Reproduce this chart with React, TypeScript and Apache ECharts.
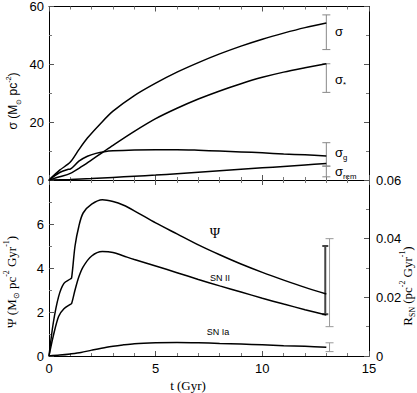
import React, { useEffect, useRef } from "react";
import * as echarts from "echarts";

// ---- Top panel: surface densities (M_sun pc^-2) ----
const tSigma = [0, 0.5, 1.0, 1.4, 1.8, 2.4, 3, 4, 5, 6, 7, 8, 9, 10, 11, 12, 13];
const sigmaTotal = [0, 3.4, 6.2, 10.5, 14.5, 19.4, 23.8, 29.2, 33.5, 37.3, 40.6, 43.6, 46.3, 48.7, 50.8, 52.7, 54.3];

const tStar = [0, 0.5, 1.0, 1.5, 2, 2.5, 3, 4, 5, 6, 7, 8, 9, 10, 11, 12, 13];
const sigmaStar = [0, 1.1, 2.3, 4.5, 7.0, 9.5, 12.0, 16.8, 21.2, 24.8, 28, 30.8, 33.3, 35.5, 37.3, 38.8, 40.2];

const tGas = [0, 0.5, 0.9, 1.0, 1.1, 1.4, 1.8, 2.2, 2.6, 3, 4, 5, 6, 7, 8, 9, 10, 11, 12, 13];
const sigmaGas = [0, 2.6, 3.7, 3.8, 4.3, 6.5, 8.2, 9.2, 9.8, 10.1, 10.4, 10.5, 10.5, 10.3, 10.0, 9.7, 9.4, 9.0, 8.7, 8.3];

const tRem = [0, 1, 2, 3, 4, 5, 6, 7, 8, 9, 10, 11, 12, 13];
const sigmaRem = [0, 0.2, 0.5, 0.9, 1.3, 1.7, 2.2, 2.7, 3.2, 3.7, 4.2, 4.7, 5.2, 5.7];

// observed ranges at t = 13 Gyr: [t, low, high]
const sigmaObs = [
  [13, 45.1, 57.1],
  [13, 30.3, 40.2],
  [13, 4.8, 12.9],
  [13, 1.1, 4.8],
];

// ---- Bottom panel ----
const tPsi = [0, 0.2, 0.45, 0.7, 1.0, 1.06, 1.22, 1.4, 1.6, 2.0, 2.5, 3, 3.5, 4, 5, 6, 7, 8, 9, 10, 11, 12, 13];
const psi = [0, 1.5, 2.7, 3.3, 3.5, 3.55, 5.0, 5.9, 6.5, 6.9, 7.1, 7.02, 6.85, 6.6, 6.05, 5.55, 5.05, 4.6, 4.18, 3.8, 3.45, 3.12, 2.82];

// SN rates (pc^-2 Gyr^-1), right axis
const tSN2 = [0, 0.2, 0.45, 0.7, 1.0, 1.06, 1.22, 1.4, 1.6, 2.0, 2.5, 3, 3.5, 4, 5, 6, 7, 8, 9, 10, 11, 12, 13];
const snII = [0, 0.0068, 0.0135, 0.0161, 0.0176, 0.0179, 0.0225, 0.027, 0.0304, 0.0341, 0.0356, 0.0353, 0.0341, 0.0329, 0.0307, 0.0284, 0.0261, 0.0239, 0.0218, 0.0197, 0.0177, 0.0158, 0.014];

const tSN1 = [0, 0.5, 1, 1.5, 2, 2.7, 3.5, 4, 5, 6, 7, 8, 9, 10, 11, 12, 13];
const snIa = [0, 0.0003, 0.0007, 0.0012, 0.002, 0.003, 0.0038, 0.0042, 0.0045, 0.0046, 0.0045, 0.0043, 0.0041, 0.0038, 0.0035, 0.0033, 0.003];

const psiObs = [[12.95, 1.9, 5.0]];
const snObs = [
  [13.15, 0.01, 0.04],
  [13.15, 0.0015, 0.0045],
];

const xTicks = [0, 5, 10, 15];
const leftTopTicks = [0, 20, 40, 60];
const leftBottomTicks = [0, 2, 4, 6];
const rightBottomTicks = [0, 0.02, 0.04, 0.06];

const zip = (xs: number[], ys: number[]) => xs.map((x, i) => [x, ys[i]]);

const SANS = "'Liberation Sans', Arial, sans-serif";
const SERIF = "'Liberation Serif', 'Times New Roman', serif";

function errRender(color: string, width: number, cap: number) {
  return (params: any, api: any) => {
    const x = api.value(0);
    const p1 = api.coord([x, api.value(1)]);
    const p2 = api.coord([x, api.value(2)]);
    const st = { stroke: color, lineWidth: width };
    return {
      type: "group",
      children: [
        { type: "line", shape: { x1: p1[0], y1: p1[1], x2: p2[0], y2: p2[1] }, style: st },
        { type: "line", shape: { x1: p1[0] - cap, y1: p1[1], x2: p1[0] + cap, y2: p1[1] }, style: st },
        { type: "line", shape: { x1: p2[0] - cap, y1: p2[1], x2: p2[0] + cap, y2: p2[1] }, style: st },
      ],
    };
  };
}

export default function App() {
  const ref = useRef<HTMLDivElement>(null);
  useEffect(() => {
    if (!ref.current) return;
    const chart = echarts.init(ref.current, undefined, { renderer: "svg" });

    const axisLine = { show: true, onZero: false, lineStyle: { color: "#000", width: 1 } };
    const tick = { show: true, inside: true, length: 5, lineStyle: { color: "#555" } };
    const minor = { show: true, splitNumber: 5, length: 3, lineStyle: { color: "#777" } };
    const minorY = { show: true, splitNumber: 2, length: 3, lineStyle: { color: "#777" } };
    const lbl = { color: "#000", fontFamily: SANS, fontSize: 13 };

    const xBase = (grid: number, pos: string, showLabel: boolean) => ({
      type: "value",
      gridIndex: grid,
      position: pos,
      min: 0,
      max: 15,
      interval: 5,
      axisLine,
      axisTick: tick,
      minorTick: minor,
      splitLine: { show: false },
      axisLabel: showLabel
        ? { ...lbl, margin: 6, formatter: (v: number) => (xTicks.includes(v) ? String(v) : "") }
        : { show: false },
    });

    const line = (name: string, data: number[][], xi: number, yi: number) => ({
      type: "line",
      name,
      data,
      xAxisIndex: xi,
      yAxisIndex: yi,
      showSymbol: false,
      smooth: 0.3,
      lineStyle: { color: "#000", width: 1.5 },
      silent: true,
    });

    const subStyle = (ff: string, fs: number) => ({ fontFamily: ff, fontSize: fs, verticalAlign: "bottom", color: "#000" });
    const supStyle = (ff: string, fs: number) => ({ fontFamily: ff, fontSize: fs, verticalAlign: "top", color: "#000" });

    const richTxt = (ff: string, fs: number) => ({
      a: { fontFamily: ff, fontSize: fs, lineHeight: fs + 5, color: "#000" },
      sub: subStyle(ff, fs * 0.6),
      sup: supStyle(ff, fs * 0.6),
    });

    chart.setOption({
      animation: false,
      backgroundColor: "#fff",
      grid: [
        { left: 49, top: 5, width: 320, height: 175 },
        { left: 49, top: 180, width: 320, height: 176 },
      ],
      xAxis: [xBase(0, "bottom", false), xBase(0, "top", false), xBase(1, "bottom", true), xBase(1, "top", false)],
      yAxis: [
        {
          type: "value", gridIndex: 0, position: "left", min: 0, max: 60, interval: 20,
          axisLine, axisTick: tick, minorTick: minorY, splitLine: { show: false },
          axisLabel: { ...lbl, margin: 5, formatter: (v: number) => (leftTopTicks.includes(v) ? String(v) : "") },
        },
        {
          type: "value", gridIndex: 0, position: "right", min: 0, max: 60, interval: 20,
          axisLine, axisTick: tick, minorTick: minorY, splitLine: { show: false }, axisLabel: { show: false },
        },
        {
          type: "value", gridIndex: 1, position: "left", min: 0, max: 8, interval: 2,
          axisLine, axisTick: tick, minorTick: minorY, splitLine: { show: false },
          axisLabel: { ...lbl, margin: 5, formatter: (v: number) => (leftBottomTicks.includes(v) ? String(v) : "") },
        },
        {
          type: "value", gridIndex: 1, position: "right", min: 0, max: 0.06, interval: 0.02,
          axisLine, axisTick: tick, minorTick: minorY, splitLine: { show: false },
          axisLabel: {
            ...lbl, margin: 7,
            formatter: (v: number) => {
              const m = rightBottomTicks.find((r) => Math.abs(r - v) < 1e-9);
              if (m === undefined) return "";
              return m === 0 ? "0" : m.toFixed(2);
            },
          },
        },
      ],
      series: [
        line("sigma", zip(tSigma, sigmaTotal), 0, 0),
        line("sigma_star", zip(tStar, sigmaStar), 0, 0),
        line("sigma_gas", zip(tGas, sigmaGas), 0, 0),
        line("sigma_rem", zip(tRem, sigmaRem), 0, 0),
        line("psi", zip(tPsi, psi), 2, 2),
        line("snII", zip(tSN2, snII), 2, 3),
        line("snIa", zip(tSN1, snIa), 2, 3),
        {
          type: "custom", xAxisIndex: 0, yAxisIndex: 0, data: sigmaObs,
          encode: { x: 0, y: [1, 2] }, renderItem: errRender("#888", 1, 4), silent: true, z: 1,
        },
        {
          type: "custom", xAxisIndex: 2, yAxisIndex: 2, data: psiObs,
          encode: { x: 0, y: [1, 2] }, renderItem: errRender("#444", 2, 3), silent: true, z: 3,
        },
        {
          type: "custom", xAxisIndex: 2, yAxisIndex: 3, data: snObs,
          encode: { x: 0, y: [1, 2] }, renderItem: errRender("#999", 1, 4), silent: true, z: 1,
        },
      ],
      graphic: [
        // curve labels, top panel
        { type: "text", x: 335, y: 31, style: { text: "{a|σ}", rich: richTxt(SANS, 13), verticalAlign: "middle" } },
        { type: "text", x: 335, y: 79, style: { text: "{a|σ}{sub|*}", rich: richTxt(SANS, 13), verticalAlign: "middle" } },
        { type: "text", x: 335, y: 152, style: { text: "{a|σ}{sub|g}", rich: richTxt(SANS, 13), verticalAlign: "middle" } },
        { type: "text", x: 335, y: 171, style: { text: "{a|σ}{sub|rem}", rich: richTxt(SANS, 13), verticalAlign: "middle" } },
        // bottom panel labels
        { type: "text", x: 215, y: 233, style: { text: "Ψ", font: `14px ${SERIF}`, fill: "#000", align: "center", verticalAlign: "middle" } },
        { type: "text", x: 220, y: 278, style: { text: "SN II", font: `9px ${SANS}`, fill: "#000", align: "center", verticalAlign: "middle" } },
        { type: "text", x: 218, y: 332, style: { text: "SN Ia", font: `9px ${SANS}`, fill: "#000", align: "center", verticalAlign: "middle" } },
        // axis titles
        {
          type: "text", x: 13, y: 101, rotation: Math.PI / 2,
          style: { text: "{a|σ (M}{sub|⊙}{a| pc}{sup|-2}{a|)}", rich: richTxt(SANS, 12), align: "center", verticalAlign: "middle" },
        },
        {
          type: "text", x: 11, y: 282, rotation: Math.PI / 2,
          style: { text: "{a|Ψ (M}{sub|⊙}{a| pc}{sup|-2}{a| Gyr}{sup|-1}{a|)}", rich: richTxt(SERIF, 13), align: "center", verticalAlign: "middle" },
        },
        {
          type: "text", x: 407, y: 286, rotation: Math.PI / 2,
          style: { text: "{a|R}{sub|SN}{a| (pc}{sup|-2}{a| Gyr}{sup|-1}{a|)}", rich: richTxt(SERIF, 13), align: "center", verticalAlign: "middle" },
        },
        { type: "text", x: 188, y: 385, style: { text: "t (Gyr)", font: `13px ${SERIF}`, fill: "#000", align: "center", verticalAlign: "middle" } },
      ],
    });
    return () => chart.dispose();
  }, []);
  return <div ref={ref} style={{ position: "absolute", left: 0, top: 0, width: 417, height: 393 }} />;
}
